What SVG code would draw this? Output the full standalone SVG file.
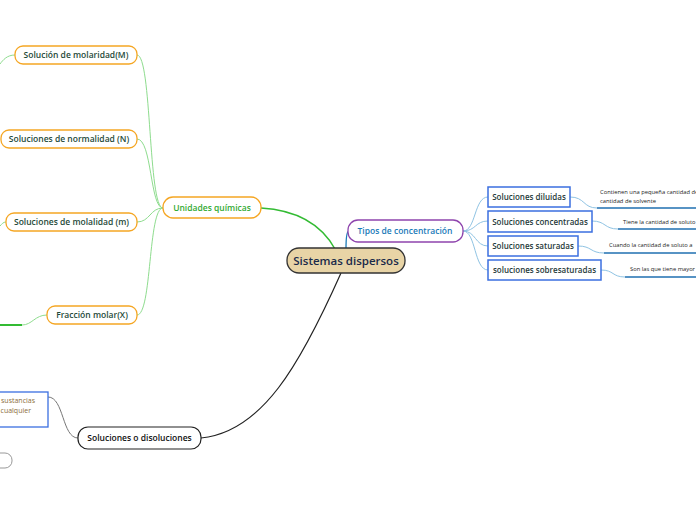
<svg xmlns="http://www.w3.org/2000/svg" width="696" height="520" viewBox="0 0 696 520">
<style>
text{font-family:"Open Sans","Noto Sans","DejaVu Sans",sans-serif;}
.orange{fill:#fff;stroke:#f5a623;stroke-width:1.3;}
.otext{font-size:8.5px;fill:#1f4a3a;text-anchor:middle;font-weight:600;}
.bnode{fill:#fff;stroke:#3b6fe0;stroke-width:1.5;}
.btext{font-size:8px;fill:#1f3a3a;text-anchor:middle;font-weight:600;}
.small{font-size:5.8px;fill:#222;}
.ul{stroke:#1f6fb0;stroke-width:1.5;fill:none;}
.lg{stroke:#8edc8e;stroke-width:1;fill:none;}
.lb{stroke:#8fc3e3;stroke-width:1;fill:none;}
</style>
<rect width="696" height="520" fill="#fff"/>
<g id="connectors">
<path d="M335,249 C320,222 295,210 261,208" stroke="#33bb33" stroke-width="1.5" fill="none"/>
<path d="M346,249 C346,236 347,231 349,231" stroke="#1a7ab8" stroke-width="1.3" fill="none"/>
<path d="M341,273 C300,365 262,432 201,438" stroke="#222" stroke-width="1.2" fill="none"/>
<path class="lg" d="M163,208 C148,208 152,55 137,55"/>
<path class="lg" d="M163,208 C150,208 152,139 137,139"/>
<path class="lg" d="M163,208 C150,208 150,222 137,222"/>
<path class="lg" d="M163,208 C148,208 152,315 137,315"/>
<path class="lg" d="M15,55 C7,55 3,60 0,64"/>
<path class="lg" d="M6,222 C3,222 2,224 0,226"/>
<path class="lg" d="M47,315 C35,315 32,325 22,325"/>
<path d="M0,325 L22,325" stroke="#33bb33" stroke-width="2" fill="none"/>
<path class="lb" d="M463,231 C476,231 474,197 488,197"/>
<path class="lb" d="M463,231 C476,231 475,221 488,221"/>
<path class="lb" d="M463,231 C476,231 475,246 488,246"/>
<path class="lb" d="M463,231 C476,231 474,270 488,270"/>
<path class="lb" d="M570,197 C585,197 583,208 597,208"/>
<path class="lb" d="M592,221 C606,221 604,229 618,229"/>
<path class="lb" d="M578,246 C592,246 590,253 604,253"/>
<path class="lb" d="M601,270 C614,270 612,277 625,277"/>
<path d="M78,438 C62,438 64,397 48,397" stroke="#777" stroke-width="1" fill="none"/>
</g>
<g id="central">
<rect x="287" y="248" width="118" height="25" rx="12" fill="#e8d4a6" stroke="#333" stroke-width="1.3"/>
<text x="346" y="265" font-size="11.5" fill="#1a2a4a" text-anchor="middle" font-weight="600">Sistemas dispersos</text>
</g>
<g id="unidades">
<rect x="163" y="197" width="98" height="21" rx="10" class="orange"/>
<text x="212" y="211" font-size="8.5" fill="#33aa33" text-anchor="middle" font-weight="600">Unidades químicas</text>
</g>
<g id="tipos">
<rect x="348" y="220" width="115" height="22" rx="10" fill="#fff" stroke="#8e44ad" stroke-width="1.3"/>
<text x="405" y="234" font-size="8.5" fill="#1a7ab8" text-anchor="middle" font-weight="600">Tipos de concentración</text>
</g>
<g id="disoluciones">
<rect x="78" y="427" width="123" height="22" rx="10" fill="#fff" stroke="#222" stroke-width="1.2"/>
<text x="139.5" y="441" font-size="8.5" fill="#111" text-anchor="middle" font-weight="600">Soluciones o disoluciones</text>
</g>
<g id="molaridad">
<rect x="15" y="46" width="122" height="18" rx="8" class="orange"/>
<text x="76" y="58" class="otext">Solución de molaridad(M)</text>
</g>
<g id="normalidad">
<rect x="1" y="130" width="136" height="18" rx="8" class="orange"/>
<text x="69" y="142" class="otext">Soluciones de normalidad (N)</text>
</g>
<g id="molalidad">
<rect x="6" y="213" width="131" height="18" rx="8" class="orange"/>
<text x="71.5" y="225" class="otext">Soluciones de molalidad (m)</text>
</g>
<g id="fraccion">
<rect x="47" y="306" width="90" height="18" rx="8" class="orange"/>
<text x="92" y="318" class="otext">Fracción molar(X)</text>
</g>
<g id="diluidas">
<rect x="488" y="187" width="82" height="20" class="bnode"/>
<text x="529" y="200" class="btext">Soluciones diluidas</text>
</g>
<g id="concentradas">
<rect x="488" y="211" width="104" height="21" class="bnode"/>
<text x="540" y="225" class="btext">Soluciones concentradas</text>
</g>
<g id="saturadas">
<rect x="488" y="236" width="90" height="20" class="bnode"/>
<text x="533" y="249" class="btext">Soluciones saturadas</text>
</g>
<g id="sobresaturadas">
<rect x="488" y="260" width="113" height="20" class="bnode"/>
<text x="544.5" y="273" class="btext">soluciones sobresaturadas</text>
</g>
<g id="txt-diluidas">
<text x="600" y="194" class="small">Contienen una pequeña cantidad de</text>
<text x="600" y="203" class="small">cantidad de solvente</text>
<path class="ul" d="M597,208 L696,208"/>
</g>
<g id="txt-concentradas">
<text x="623" y="224" class="small">Tiene la cantidad de soluto</text>
<path class="ul" d="M618,229 L696,229"/>
</g>
<g id="txt-saturadas">
<text x="609" y="247" class="small">Cuando la cantidad de soluto a</text>
<path class="ul" d="M604,253 L696,253"/>
</g>
<g id="txt-sobresaturadas">
<text x="630" y="271" class="small">Son las que tiene mayor</text>
<path class="ul" d="M625,277 L696,277"/>
</g>
<g id="def-disoluciones">
<rect x="-10" y="392" width="58" height="35" fill="#fff" stroke="#3b6fe0" stroke-width="1.3"/>
<text x="35" y="403" font-size="7" fill="#8b6d3a" text-anchor="end">sustancias</text>
<text x="31" y="413" font-size="7" fill="#8b6d3a" text-anchor="end">cualquier</text>
</g>
<g id="bottom-node">
<rect x="-20" y="453" width="32" height="15" rx="7" fill="#fff" stroke="#999" stroke-width="1"/>
</g>
</svg>
